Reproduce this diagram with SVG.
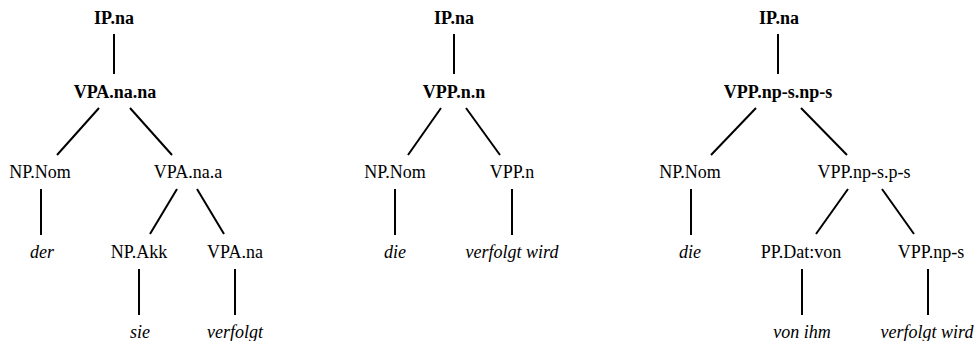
<svg xmlns="http://www.w3.org/2000/svg" width="977" height="341" viewBox="0 0 977 341">
<style>
text{font-family:"Liberation Serif","Times New Roman",serif;font-size:18px;fill:#000;text-anchor:middle}
.b{font-weight:bold}
.i{font-style:italic}
line{stroke:#000;stroke-width:2}
</style>
<rect width="977" height="341" fill="#fff"/>
<g id="connectors">
<line x1="114" y1="34" x2="114" y2="74"/>
<line x1="99" y1="108" x2="57" y2="155"/>
<line x1="130" y1="108" x2="172" y2="155"/>
<line x1="41" y1="189" x2="41" y2="235"/>
<line x1="177" y1="189" x2="150" y2="234"/>
<line x1="197" y1="189" x2="224" y2="234"/>
<line x1="139" y1="269" x2="139" y2="315"/>
<line x1="235" y1="269" x2="235" y2="315"/>
<line x1="454" y1="34" x2="454" y2="74"/>
<line x1="441" y1="108" x2="408" y2="155"/>
<line x1="466" y1="108" x2="500" y2="155"/>
<line x1="395" y1="189" x2="395" y2="235"/>
<line x1="512" y1="189" x2="512" y2="235"/>
<line x1="778" y1="34" x2="778" y2="74"/>
<line x1="756" y1="108" x2="711" y2="155"/>
<line x1="801" y1="108" x2="847" y2="155"/>
<line x1="691" y1="189" x2="691" y2="235"/>
<line x1="848" y1="189" x2="816" y2="234"/>
<line x1="882" y1="189" x2="914" y2="234"/>
<line x1="802" y1="269" x2="802" y2="315"/>
<line x1="928" y1="269" x2="928" y2="315"/>
</g>
<g id="nodes">
<g id="t1-ip"><text class="b" x="114" y="24">IP.na</text></g>
<g id="t1-vpa"><text class="b" x="115" y="98">VPA.na.na</text></g>
<g id="t1-npnom"><text x="40" y="178">NP.Nom</text></g>
<g id="t1-vpanaa"><text x="188" y="178">VPA.na.a</text></g>
<g id="t1-der"><text class="i" x="42" y="258">der</text></g>
<g id="t1-npakk"><text x="139" y="258">NP.Akk</text></g>
<g id="t1-vpana"><text x="235" y="258">VPA.na</text></g>
<g id="t1-sie"><text class="i" x="140" y="338">sie</text></g>
<g id="t1-verfolgt"><text class="i" x="235" y="338">verfolgt</text></g>
<g id="t2-ip"><text class="b" x="454" y="24">IP.na</text></g>
<g id="t2-vpp"><text class="b" x="454" y="98">VPP.n.n</text></g>
<g id="t2-npnom"><text x="395" y="178">NP.Nom</text></g>
<g id="t2-vppn"><text x="512" y="178">VPP.n</text></g>
<g id="t2-die"><text class="i" x="395" y="258">die</text></g>
<g id="t2-verfolgtwird"><text class="i" x="512" y="258">verfolgt wird</text></g>
<g id="t3-ip"><text class="b" x="779" y="24">IP.na</text></g>
<g id="t3-vpp"><text class="b" x="778" y="98">VPP.np-s.np-s</text></g>
<g id="t3-npnom"><text x="690" y="178">NP.Nom</text></g>
<g id="t3-vppnpsps"><text x="864" y="178">VPP.np-s.p-s</text></g>
<g id="t3-die"><text class="i" x="690" y="258">die</text></g>
<g id="t3-ppdat"><text x="801" y="258">PP.Dat:von</text></g>
<g id="t3-vppnps"><text x="931" y="258">VPP.np-s</text></g>
<g id="t3-vonihm"><text class="i" x="802" y="338">von ihm</text></g>
<g id="t3-verfolgtwird"><text class="i" x="927" y="338">verfolgt wird</text></g>
</g>
</svg>
